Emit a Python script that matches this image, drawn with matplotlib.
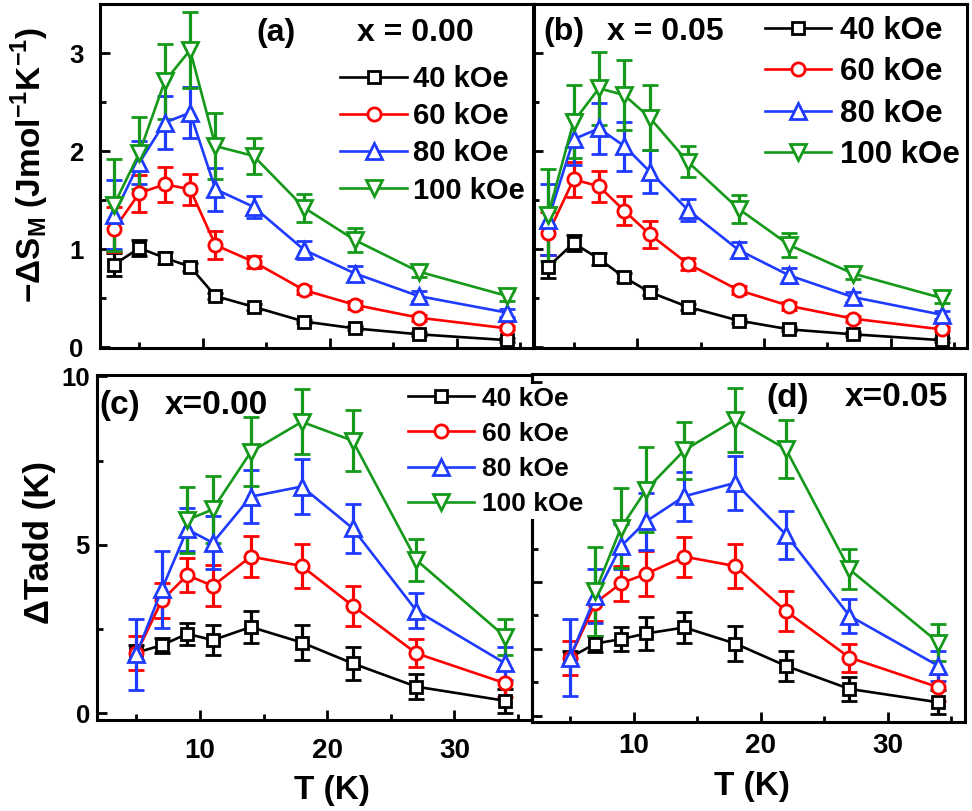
import matplotlib
matplotlib.use("Agg")
import matplotlib.pyplot as plt
from matplotlib.ticker import MultipleLocator, NullFormatter

plt.rcParams['font.family'] = ['Liberation Sans', 'DejaVu Sans']
plt.rcParams['font.weight'] = 'bold'
plt.rcParams['mathtext.fontset'] = 'custom'
plt.rcParams['mathtext.rm'] = 'Liberation Sans:bold'
plt.rcParams['mathtext.bf'] = 'Liberation Sans:bold'

# ---------------- data ----------------
fields = ['40 kOe', '60 kOe', '80 kOe', '100 kOe']
colors = ['#000000', '#ff0000', '#1f3bff', '#15991a']
markers = ['s', 'o', '^', 'v']
msizes = [8, 9.5, 12, 12]

# (a) x = 0.00, -dS_M
T_a = [3, 5, 7, 9, 11, 14, 18, 22, 27, 34]
a40 = [0.84, 1.01, 0.91, 0.82, 0.52, 0.41, 0.26, 0.19, 0.13, 0.07]
a40e = [0.12, 0.085, 0.06, 0.04, 0.03, 0.03, 0.02, 0.02, 0.02, 0.02]
a60 = [1.20, 1.57, 1.66, 1.61, 1.04, 0.87, 0.58, 0.43, 0.30, 0.19]
a60e = [0.23, 0.19, 0.18, 0.16, 0.14, 0.06, 0.04, 0.04, 0.03, 0.02]
a80 = [1.35, 1.88, 2.29, 2.39, 1.61, 1.43, 0.99, 0.75, 0.52, 0.35]
a80e = [0.35, 0.22, 0.27, 0.26, 0.22, 0.11, 0.09, 0.08, 0.05, 0.04]
a100 = [1.45, 1.98, 2.71, 3.03, 2.05, 1.95, 1.42, 1.09, 0.77, 0.52]
a100e = [0.47, 0.37, 0.38, 0.39, 0.34, 0.18, 0.14, 0.12, 0.06, 0.05]

# (b) x = 0.05, -dS_M
T_b = [3, 5, 7, 9, 11, 14, 18, 22, 27, 34]
b40 = [0.82, 1.06, 0.90, 0.71, 0.56, 0.41, 0.27, 0.18, 0.13, 0.07]
b40e = [0.12, 0.085, 0.06, 0.05, 0.03, 0.03, 0.02, 0.02, 0.02, 0.02]
b60 = [1.16, 1.71, 1.64, 1.39, 1.15, 0.85, 0.58, 0.42, 0.29, 0.18]
b60e = [0.22, 0.18, 0.16, 0.15, 0.14, 0.06, 0.04, 0.04, 0.03, 0.02]
b80 = [1.30, 2.12, 2.23, 2.05, 1.79, 1.40, 0.99, 0.73, 0.51, 0.33]
b80e = [0.36, 0.26, 0.26, 0.25, 0.22, 0.11, 0.085, 0.08, 0.05, 0.04]
b100 = [1.35, 2.30, 2.64, 2.57, 2.34, 1.89, 1.41, 1.04, 0.75, 0.50]
b100e = [0.47, 0.37, 0.37, 0.36, 0.33, 0.16, 0.14, 0.12, 0.06, 0.05]

# (c) x = 0.00, dT_add
T_c = [5, 7, 9, 11, 14, 18, 22, 27, 34]
T_c100 = [9, 11, 14, 18, 22, 27, 34]
c40 = [1.80, 2.02, 2.36, 2.17, 2.56, 2.10, 1.48, 0.79, 0.37]
c40e = [0.22, 0.22, 0.33, 0.44, 0.48, 0.52, 0.48, 0.38, 0.35]
c60 = [1.78, 3.35, 4.10, 3.78, 4.65, 4.37, 3.19, 1.78, 0.89]
c60e = [0.50, 0.53, 0.50, 0.61, 0.62, 0.66, 0.59, 0.42, 0.42]
c80 = [1.75, 3.68, 5.46, 5.06, 6.43, 6.73, 5.49, 3.05, 1.48]
c80e = [1.06, 1.14, 0.64, 0.79, 0.78, 0.82, 0.73, 0.51, 0.50]
c100 = [5.74, 6.05, 7.76, 8.65, 8.09, 4.55, 2.27]
c100e = [0.99, 0.99, 1.02, 0.96, 0.91, 0.61, 0.54]

# (d) x = 0.05, dT_add
T_d = [5, 7, 9, 11, 14, 18, 22, 27, 34]
T_d100 = [7, 9, 11, 14, 18, 22, 27, 34]
d40 = [1.74, 2.16, 2.29, 2.46, 2.64, 2.16, 1.49, 0.80, 0.40]
d40e = [0.20, 0.24, 0.35, 0.50, 0.47, 0.53, 0.46, 0.36, 0.36]
d60 = [1.74, 3.38, 3.96, 4.25, 4.76, 4.48, 3.13, 1.74, 0.85]
d60e = [0.51, 0.55, 0.53, 0.68, 0.60, 0.66, 0.59, 0.42, 0.40]
d80 = [1.74, 3.58, 5.07, 5.82, 6.57, 6.97, 5.42, 2.99, 1.49]
d80e = [1.16, 0.80, 0.67, 0.85, 0.74, 0.81, 0.72, 0.51, 0.46]
d100 = [3.73, 5.62, 6.77, 7.95, 8.86, 7.98, 4.38, 2.19]
d100e = [1.33, 1.20, 1.26, 0.85, 0.96, 0.87, 0.60, 0.55]

# ---------------- layout helpers ----------------
W, H = 972, 811
fig = plt.figure(figsize=(W / 100, H / 100), dpi=100)


def rect(l, r, t, b):
    return [l / W, 1 - b / H, (r - l) / W, (b - t) / H]


def fx(x):
    return x / W


def fy(y):
    return 1 - y / H


def style_axes(ax, xlim, ylim, ymaj, ymin, xlab_on, ylab_on, xpad, ypad, xls=20, yls=18.5):
    ax.set_xlim(*xlim)
    ax.set_ylim(*ylim)
    ax.xaxis.set_major_locator(MultipleLocator(10))
    ax.xaxis.set_minor_locator(MultipleLocator(5))
    ax.yaxis.set_major_locator(MultipleLocator(ymaj))
    ax.yaxis.set_minor_locator(MultipleLocator(ymin))
    ax.tick_params(which='both', direction='in', top=False, right=False, width=2)
    ax.tick_params(which='major', length=7.5)
    ax.tick_params(which='minor', length=4.5)
    ax.tick_params(axis='x', labelsize=xls, pad=xpad)
    ax.tick_params(axis='y', labelsize=yls, pad=ypad)
    if not xlab_on:
        ax.xaxis.set_major_formatter(NullFormatter())
    if not ylab_on:
        ax.yaxis.set_major_formatter(NullFormatter())
    for s in ax.spines.values():
        s.set_linewidth(2.2)
    ax.patch.set_visible(False)


def draw(ax, Ts, vals, errs):
    handles = []
    for T, v, e, c, m, ms in zip(Ts, vals, errs, colors, markers, msizes):
        cont = ax.errorbar(T, v, yerr=e, color=c, marker=m, ms=ms, mfc='white',
                           mec=c, mew=2.0, lw=1.9, elinewidth=2.3, capsize=5.6,
                           capthick=2.3, clip_on=False)
        handles.append(cont[0])
    return handles


ax_a = fig.add_axes(rect(100, 534, 4, 348))
ax_b = fig.add_axes(rect(533, 967, 4, 348))
ax_d = fig.add_axes(rect(532, 965, 374, 722))
ax_c = fig.add_axes(rect(97, 532, 375, 720))

# (a)
h = draw(ax_a, [T_a] * 4, [a40, a60, a80, a100], [a40e, a60e, a80e, a100e])
style_axes(ax_a, (1.9, 36.1), (-0.01, 3.5), 1, 0.5, False, True, 8, 12)
ax_a.legend(h, fields, loc='upper left', bbox_to_anchor=(fx(340), fy(65)),
            bbox_transform=fig.transFigure, frameon=False, borderpad=0,
            borderaxespad=0, fontsize=21, handlelength=2.3, handletextpad=0.2,
            labelspacing=0.315)
fig.text(fx(276), fy(33), '(a)', fontsize=23, ha='center', va='center')
fig.text(fx(415), fy(33), 'x = 0.00', fontsize=23, ha='center', va='center')

# (b)
h = draw(ax_b, [T_b] * 4, [b40, b60, b80, b100], [b40e, b60e, b80e, b100e])
style_axes(ax_b, (1.8, 36.0), (-0.01, 3.5), 1, 0.5, False, False, 8, 12)
ax_b.legend(h, fields, loc='upper left', bbox_to_anchor=(fx(765), fy(16)),
            bbox_transform=fig.transFigure, frameon=False, borderpad=0,
            borderaxespad=0, fontsize=22.5, handlelength=2.1, handletextpad=0.29,
            labelspacing=0.36)
fig.text(fx(564), fy(32), '(b)', fontsize=23, ha='center', va='center')
fig.text(fx(665), fy(32), 'x = 0.05', fontsize=23, ha='center', va='center')

# (d)
draw(ax_d, [T_d, T_d, T_d, T_d100], [d40, d60, d80, d100], [d40e, d60e, d80e, d100e])
style_axes(ax_d, (2.0, 36.1), (-0.19, 10.23), 2, 1, True, False, 8, 8)
fig.text(fx(788), fy(398), '(d)', fontsize=24, ha='center', va='center')
fig.text(fx(896), fy(398), 'x=0.05', fontsize=24, ha='center', va='center')
fig.text(fx(752), fy(787), 'T (K)', fontsize=24, ha='center', va='center')

# (c)
h = draw(ax_c, [T_c, T_c, T_c, T_c100], [c40, c60, c80, c100], [c40e, c60e, c80e, c100e])
style_axes(ax_c, (1.9, 36.1), (-0.2, 10.04), 5, 2.5, True, True, 13, 5)
leg = ax_c.legend(h, fields, loc='upper left', bbox_to_anchor=(fx(405), fy(384)),
                  bbox_transform=fig.transFigure, frameon=True, borderpad=0.1,
                  borderaxespad=0, fontsize=19, handlelength=2.5, handletextpad=0.3,
                  labelspacing=0.42, fancybox=False)
leg.get_frame().set_facecolor('white')
leg.get_frame().set_edgecolor('none')
leg.get_frame().set_alpha(1)
fig.text(fx(120), fy(405), '(c)', fontsize=24, ha='center', va='center')
fig.text(fx(216), fy(405), 'x=0.00', fontsize=24, ha='center', va='center')
fig.text(fx(332), fy(790), 'T (K)', fontsize=24, ha='center', va='center')

# y labels
fig.text(fx(30), fy(165), '−ΔS$_\\mathregular{M}$ (Jmol$^\\mathregular{-1}$K$^\\mathregular{-1}$)',
         fontsize=24, rotation=90, ha='center', va='center')
fig.text(fx(40), fy(542), 'ΔTadd (K)', fontsize=25, rotation=90, ha='center', va='center')

fig.savefig('out.png', dpi=100)
